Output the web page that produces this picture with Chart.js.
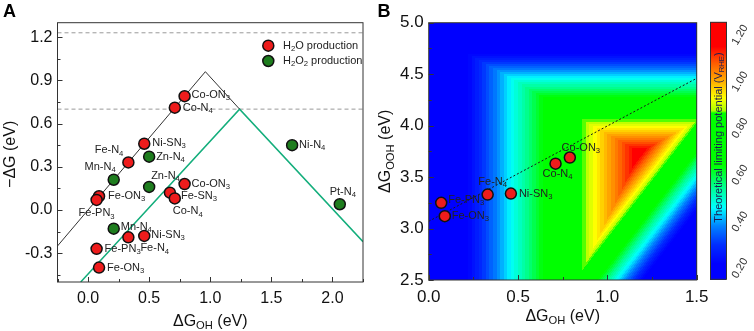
<!DOCTYPE html>
<html>
<head>
<meta charset="utf-8">
<script src="https://cdn.jsdelivr.net/npm/chart.js@4.4.1/dist/chart.umd.min.js"></script>
<style>
  html, body { margin: 0; padding: 0; background: #fff; }
  #wrap { position: relative; width: 754px; height: 331px; }
  canvas { position: absolute; top: 0; }
  #chartA { left: 0; }
  #chartB { left: 370px; }
</style>
</head>
<body>
<div id="wrap">
  <canvas id="chartA" width="370" height="331"></canvas>
  <canvas id="chartB" width="384" height="331"></canvas>
</div>
<script>
// ---- panel A: -dG vs dG_OH ----
const waterNames = ['Co-ON_{3}', 'Co-N_{4}', 'Ni-SN_{3}', 'Fe-N_{4}', 'Fe-ON_{3}', 'Fe-PN_{3}',
  'Co-ON_{3}', 'Fe-SN_{3}', 'Co-N_{4}', 'Fe-N_{4}', 'Ni-SN_{3}', 'Fe-PN_{3}', 'Fe-ON_{3}'];
const waterOH = [0.79, 0.71, 0.46, 0.33, 0.09, 0.07, 0.79, 0.67, 0.71, 0.33, 0.46, 0.07, 0.09];
const waterDG = [0.79, 0.71, 0.46, 0.33, 0.095, 0.07, 0.18, 0.12, 0.08, -0.19, -0.18, -0.27, -0.40];

const peroxNames = ['Zn-N_{4}', 'Mn-N_{4}', 'Ni-N_{4}', 'Zn-N_{4}', 'Mn-N_{4}', 'Pt-N_{4}'];
const peroxOH = [0.50, 0.21, 1.67, 0.50, 0.21, 2.06];
const peroxDG = [0.37, 0.21, 0.45, 0.16, -0.13, 0.04];

const volcano4eOH = [-0.25, 0.96, 1.24];
const volcano4eDG = [-0.25, 0.96, 0.70];
const volcano2eOH = [-0.06, 1.24, 2.25];
const volcano2eDG = [-0.50, 0.70, -0.22];
const refLevels = [1.23, 0.70];

const xTicksA = [0, 0.5, 1.0, 1.5, 2.0];
const yTicksA = [-0.3, 0, 0.3, 0.6, 0.9, 1.2];

// ---- panel B: dG_OOH vs dG_OH map ----
const mapNames = ['Fe-PN_{3}', 'Fe-ON_{3}', 'Fe-N_{4}', 'Ni-SN_{3}', 'Co-N_{4}', 'Co-ON_{3}'];
const mapOH = [0.07, 0.09, 0.33, 0.46, 0.71, 0.79];
const mapOOH = [3.25, 3.12, 3.33, 3.34, 3.63, 3.69];
const scalingOH = [0, 1.5];
const scalingOOH = [3.07, 4.46];

const xTicksB = [0, 0.5, 1.0, 1.5];
const yTicksB = [2.5, 3.0, 3.5, 4.0, 4.5, 5.0];
const barTicks = [0.2, 0.4, 0.6, 0.8, 1.0, 1.2];
const barRange = [0.153, 1.254];

// limiting steps of the surface, U = a + b*dG_OH + c*dG_OOH
const stepA = [0, 4.92, 0.352];
const stepB = [1, 0, -1.70];
const stepC = [0, -1, 0.759];

// colour map stops
const cmapStops = [0.22, 0.30, 0.38, 0.46, 0.55, 0.64, 0.865, 0.875, 0.93, 1.00, 1.08, 1.15];
const cmapColors = [[0,0,255],[0,45,255],[0,130,255],[0,255,255],[0,255,140],[0,255,0],
  [0,255,0],[170,255,0],[255,255,0],[255,175,0],[255,90,0],[255,0,0]];

// label placement [dx, dy, align]
const waterLabelPos = [[7,-1,'left'],[8,0,'left'],[8,-1,'left'],[-5,-12,'right'],[9,0,'left'],[0,13.5,'center'],
  [7,0,'left'],[11,3.5,'left'],[-2,13,'left'],[12,11,'left'],[7,-1,'left'],[8,0,'left'],[8,0,'left']];
const peroxLabelPos = [[7,0,'left'],[2,-12.5,'right'],[7,0,'left'],[2,-11,'left'],[7,-2,'left'],[3,-12,'center']];
const mapLabelPos = [[7,-3,'left'],[7,0,'left'],[5,-13,'center'],[8,0,'left'],[2,10,'center'],[11,-10,'center']];

const FONT = "'Liberation Sans', Arial, sans-serif";
const RED = '#ee1c1c';
const GREEN = '#1e7d1e';

function richParts(str) {
  const out = [];
  const re = /_\{([^}]*)\}/g;
  let last = 0, m;
  while ((m = re.exec(str))) {
    if (m.index > last) out.push({ t: str.slice(last, m.index), sub: false });
    out.push({ t: m[1], sub: true });
    last = re.lastIndex;
  }
  if (last < str.length) out.push({ t: str.slice(last), sub: false });
  return out;
}

function drawRich(ctx, str, x, y, size, align, color) {
  const parts = richParts(str);
  const subSize = size * 0.7;
  const widths = parts.map(p => {
    ctx.font = `${p.sub ? subSize : size}px ${FONT}`;
    return ctx.measureText(p.t).width;
  });
  const total = widths.reduce((a, b) => a + b, 0);
  let cx = align === 'left' ? x : align === 'right' ? x - total : x - total / 2;
  ctx.fillStyle = color;
  ctx.textBaseline = 'middle';
  ctx.textAlign = 'left';
  parts.forEach((p, i) => {
    ctx.font = `${p.sub ? subSize : size}px ${FONT}`;
    ctx.fillText(p.t, cx, p.sub ? y + size * 0.28 : y);
    cx += widths[i];
  });
}

function cmap(u) {
  if (u <= cmapStops[0]) return cmapColors[0];
  const n = cmapStops.length;
  if (u >= cmapStops[n - 1]) return cmapColors[n - 1];
  let k = 0;
  while (u > cmapStops[k + 1]) k++;
  const t = (u - cmapStops[k]) / (cmapStops[k + 1] - cmapStops[k]);
  return cmapColors[k].map((c, j) => Math.round(c + (cmapColors[k + 1][j] - c) * t));
}

function pts(xs, ys) {
  return xs.map((v, i) => ({ x: v, y: ys[i] }));
}

function frameAndTicks(chart, xt, yt, xStep, yStep) {
  const { ctx, chartArea: a, scales: { x, y } } = chart;
  ctx.save();
  ctx.strokeStyle = '#333';
  ctx.lineWidth = 1;
  ctx.strokeRect(a.left, a.top, a.right - a.left, a.bottom - a.top);
  ctx.beginPath();
  const xs = xt.concat(xt.map(v => v - xStep / 2), [xt[xt.length - 1] + xStep / 2]);
  xs.forEach(v => {
    if (v < x.min || v > x.max) return;
    const px = Math.round(x.getPixelForValue(v)) + 0.5;
    const len = xt.includes(v) ? 5 : 3;
    ctx.moveTo(px, a.bottom);
    ctx.lineTo(px, a.bottom - len);
  });
  const ys = yt.concat(yt.map(v => v - yStep / 2), [yt[yt.length - 1] + yStep / 2]);
  ys.forEach(v => {
    if (v < y.min || v > y.max) return;
    const py = Math.round(y.getPixelForValue(v)) + 0.5;
    const len = yt.includes(v) ? 5 : 3;
    ctx.moveTo(a.left, py);
    ctx.lineTo(a.left + len, py);
  });
  ctx.stroke();
  ctx.restore();
}

function pointLabels(chart, dsIndex, names, pos, size) {
  const meta = chart.getDatasetMeta(dsIndex);
  const ctx = chart.ctx;
  meta.data.forEach((el, i) => {
    const [dx, dy, align] = pos[i];
    drawRich(ctx, names[i], el.x + dx, el.y + dy, size, align, '#222');
  });
}

function scaleOpts(min, max, ticks, fit, isX, size) {
  return {
    type: 'linear',
    min: min,
    max: max,
    afterBuildTicks: s => { s.ticks = ticks.map(v => ({ value: v })); },
    afterFit: s => { if (isX) s.height = fit; else s.width = fit; },
    grid: { display: false, drawTicks: false },
    border: { display: false },
    ticks: {
      autoSkip: false,
      maxRotation: 0,
      padding: isX ? 7 : 5,
      color: '#111',
      font: { family: FONT, size: size },
      callback: v => Number(v).toFixed(1)
    }
  };
}

const markerStyle = {
  borderColor: '#111',
  borderWidth: 1.5,
  pointRadius: 5.5,
  order: 0
};

// ---------- chart A ----------
const panelA = {
  id: 'panelA',
  afterDatasetsDraw(chart) {
    frameAndTicks(chart, xTicksA, yTicksA, 0.5, 0.3);
    pointLabels(chart, 0, waterNames, waterLabelPos, 11);
    pointLabels(chart, 1, peroxNames, peroxLabelPos, 11);
  },
  afterDraw(chart) {
    const { ctx, chartArea: a } = chart;
    ctx.save();
    // legend
    [[RED, 'H_{2}O production', 45.7], [GREEN, 'H_{2}O_{2} production', 61]].forEach(([c, t, yy]) => {
      ctx.beginPath();
      ctx.arc(268.3, yy, 5.5, 0, Math.PI * 2);
      ctx.fillStyle = c;
      ctx.fill();
      ctx.lineWidth = 1.5;
      ctx.strokeStyle = '#111';
      ctx.stroke();
      drawRich(ctx, t, 283, yy, 11, 'left', '#222');
    });
    // axis titles
    drawRich(ctx, 'ΔG_{OH} (eV)', (a.left + a.right) / 2, 321.5, 16, 'center', '#111');
    ctx.translate(11, (a.top + a.bottom) / 2 + 2);
    ctx.rotate(-Math.PI / 2);
    drawRich(ctx, '−ΔG (eV)', 0, 0, 16, 'center', '#111');
    ctx.restore();
    ctx.save();
    ctx.font = `bold 18px ${FONT}`;
    ctx.fillStyle = '#000';
    ctx.textBaseline = 'middle';
    ctx.textAlign = 'center';
    ctx.fillText('A', 9.5, 12.5);
    ctx.restore();
  }
};

new Chart(document.getElementById('chartA'), {
  type: 'scatter',
  data: {
    datasets: [
      Object.assign({ label: 'H2O production', data: pts(waterOH, waterDG), backgroundColor: RED }, markerStyle),
      Object.assign({ label: 'H2O2 production', data: pts(peroxOH, peroxDG), backgroundColor: GREEN }, markerStyle),
      { label: '4e', data: pts(volcano4eOH, volcano4eDG), showLine: true, borderColor: '#333', borderWidth: 1, pointRadius: 0, order: 2 },
      { label: '2e', data: pts(volcano2eOH, volcano2eDG), showLine: true, borderColor: '#14ae7c', borderWidth: 1.5, pointRadius: 0, order: 2 },
      ...refLevels.map(v => ({
        label: 'ref', data: pts([-0.25, 2.25], [v, v]), showLine: true,
        borderColor: '#9a9a9a', borderWidth: 1, borderDash: [4, 3], pointRadius: 0, order: 3
      }))
    ]
  },
  options: {
    responsive: false,
    animation: false,
    events: [],
    layout: { padding: { left: 0, right: 6, top: 22.7, bottom: 0 } },
    plugins: { legend: { display: false }, tooltip: { enabled: false } },
    scales: {
      x: scaleOpts(-0.25, 2.25, xTicksA, 49, true, 16),
      y: scaleOpts(-0.5, 1.3, yTicksA, 57.5, false, 16)
    }
  },
  plugins: [panelA]
});

// ---------- chart B ----------
const panelB = {
  id: 'panelB',
  beforeDatasetsDraw(chart) {
    const { ctx, chartArea: a, scales: { x, y } } = chart;
    const left = Math.round(a.left), top = Math.round(a.top);
    const w = Math.round(a.right) - left, h = Math.round(a.bottom) - top;
    const img = ctx.createImageData(w, h);
    for (let j = 0; j < h; j++) {
      const yv = y.getValueForPixel(top + j + 0.5);
      for (let i = 0; i < w; i++) {
        const xv = x.getValueForPixel(left + i + 0.5);
        let u = Infinity;
        for (let k = 0; k < stepA.length; k++) {
          u = Math.min(u, stepA[k] + stepB[k] * xv + stepC[k] * yv);
        }
        u = Math.floor(u / 0.02) * 0.02 + 0.01;
        const c = cmap(u);
        const o = (j * w + i) * 4;
        img.data[o] = c[0]; img.data[o + 1] = c[1]; img.data[o + 2] = c[2]; img.data[o + 3] = 255;
      }
    }
    ctx.putImageData(img, left, top);
  },
  afterDatasetsDraw(chart) {
    frameAndTicks(chart, xTicksB, yTicksB, 0.5, 0.5);
    pointLabels(chart, 0, mapNames, mapLabelPos, 11);
  },
  afterDraw(chart) {
    const { ctx, chartArea: a } = chart;
    // colour bar
    const bx = 340, bw = 16, bt = 22.3, bb = 279.3;
    const span = barRange[1] - barRange[0];
    ctx.save();
    for (let r = Math.floor(bt); r < bb; r++) {
      const v = barRange[1] - (r + 0.5 - bt) / (bb - bt) * span;
      const c = cmap(v);
      ctx.fillStyle = `rgb(${c[0]},${c[1]},${c[2]})`;
      ctx.fillRect(bx, r, bw, 1);
    }
    ctx.strokeStyle = '#333';
    ctx.lineWidth = 1;
    ctx.strokeRect(bx + 0.5, bt, bw, bb - bt);
    barTicks.forEach(t => {
      const yy = bt + (barRange[1] - t) / span * (bb - bt);
      ctx.save();
      ctx.translate(370, yy);
      ctx.rotate(-Math.PI / 3);
      ctx.font = `11px ${FONT}`;
      ctx.fillStyle = '#333';
      ctx.textAlign = 'center';
      ctx.textBaseline = 'middle';
      ctx.fillText(t.toFixed(2), 0, 0);
      ctx.restore();
    });
    ctx.save();
    ctx.translate(bx + bw / 2 + 0.5, 137.5);
    ctx.rotate(-Math.PI / 2);
    drawRich(ctx, 'Theoretical limiting potential (V_{RHE})', 0, 0, 11, 'center', '#1b1b55');
    ctx.restore();
    // axis titles
    drawRich(ctx, 'ΔG_{OH} (eV)', (a.left + a.right) / 2, 316.5, 16, 'center', '#111');
    ctx.translate(16, (a.top + a.bottom) / 2);
    ctx.rotate(-Math.PI / 2);
    drawRich(ctx, 'ΔG_{OOH} (eV)', 0, 0, 16, 'center', '#111');
    ctx.restore();
    ctx.save();
    ctx.font = `bold 18px ${FONT}`;
    ctx.fillStyle = '#000';
    ctx.textBaseline = 'middle';
    ctx.textAlign = 'center';
    ctx.fillText('B', 14, 12.5);
    ctx.restore();
  }
};

new Chart(document.getElementById('chartB'), {
  type: 'scatter',
  data: {
    datasets: [
      Object.assign({ label: 'catalysts', data: pts(mapOH, mapOOH), backgroundColor: RED }, markerStyle),
      { label: 'scaling', data: pts(scalingOH, scalingOOH), showLine: true, borderColor: '#1a1a1a',
        borderWidth: 1, borderDash: [2, 2], pointRadius: 0, order: 2 }
    ]
  },
  options: {
    responsive: false,
    animation: false,
    events: [],
    layout: { padding: { left: 0, right: 57.3, top: 22.7, bottom: 0 } },
    plugins: { legend: { display: false }, tooltip: { enabled: false } },
    scales: {
      x: scaleOpts(0, 1.5, xTicksB, 51, true, 17),
      y: scaleOpts(2.5, 5.0, yTicksB, 58.7, false, 17)
    }
  },
  plugins: [panelB]
});
</script>
</body>
</html>
